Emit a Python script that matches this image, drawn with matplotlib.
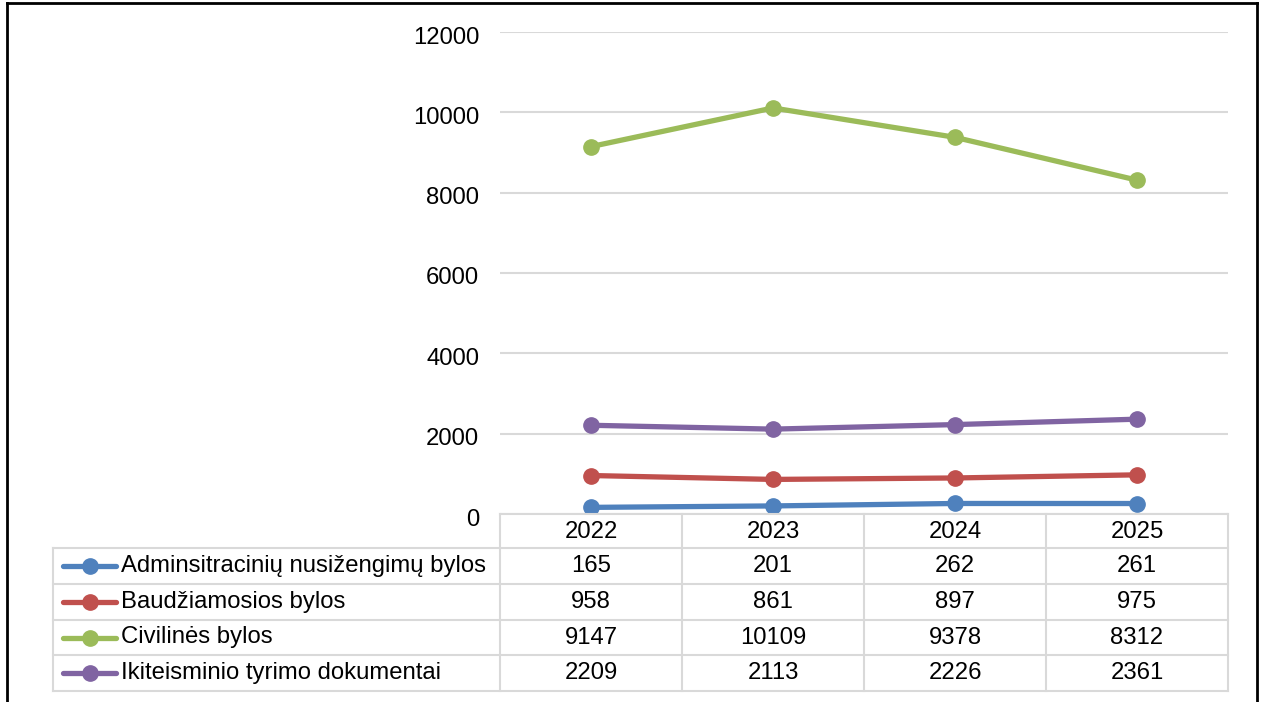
import matplotlib.pyplot as plt
from matplotlib.lines import Line2D
from matplotlib.transforms import ScaledTranslation
import numpy as np

plt.rcParams['font.family'] = ['Liberation Sans', 'DejaVu Sans']

years = ['2022', '2023', '2024', '2025']
series_names = ['Adminsitracinių nusižengimų bylos',
                'Baudžiamosios bylos',
                'Civilinės bylos',
                'Ikiteisminio tyrimo dokumentai']
admin = [165, 201, 262, 261]
baudz = [958, 861, 897, 975]
civil = [9147, 10109, 9378, 8312]
ikiteis = [2209, 2113, 2226, 2361]
colors = ['#4F81BD', '#C0504D', '#9BBB59', '#8064A2']

W, H = 1261, 702
fig = plt.figure(figsize=(W / 100, H / 100), dpi=100)
FS = 17.2


def fx(px):
    return px / W


def fy(py):
    return 1 - py / H


# plot area in pixels
left, right, top, bottom = 500, 1228, 32, 514
ax = fig.add_axes([fx(left), fy(bottom), fx(right - left), (bottom - top) / H])
ax.set_xlim(-0.5, len(years) - 0.5)
ax.set_ylim(0, 12000)
ax.set_yticks(np.arange(0, 12001, 2000))
ax.yaxis.grid(True, color='#D9D9D9', lw=1.5)
ax.set_axisbelow(True)
for s in ax.spines.values():
    s.set_visible(False)
ax.tick_params(axis='y', length=0, labelsize=FS, pad=15)
ax.set_xticks([])
# labels sit a little below their gridlines in the original
shift = ScaledTranslation(0, -3 / 100, fig.dpi_scale_trans)
for lab in ax.get_yticklabels():
    lab.set_transform(lab.get_transform() + shift)

x = np.arange(len(years))
all_series = [admin, baudz, civil, ikiteis]
for vals, c in zip(all_series, colors):
    ax.plot(x, vals, color=c, lw=3.8, marker='o', ms=11, solid_capstyle='round')

# data table below the plot
grid_c = '#D9D9D9'
row_edges = [514, 548, 584, 620, 655, 691]
tab_left = 53
fig.add_artist(Line2D([fx(left), fx(right)], [fy(row_edges[0])] * 2,
                      color=grid_c, lw=1.5))
for ry in row_edges[1:]:
    fig.add_artist(Line2D([fx(tab_left), fx(right)], [fy(ry)] * 2,
                          color=grid_c, lw=1.5))
fig.add_artist(Line2D([fx(tab_left)] * 2, [fy(row_edges[1]), fy(row_edges[-1])],
                      color=grid_c, lw=1.5))
col_w = (right - left) / len(years)
for i in range(len(years) + 1):
    cx = left + i * col_w
    fig.add_artist(Line2D([fx(cx)] * 2, [fy(row_edges[0]), fy(row_edges[-1])],
                          color=grid_c, lw=1.5))

for i, yr in enumerate(years):
    cx = left + (i + 0.5) * col_w
    fig.text(fx(cx), fy((row_edges[0] + row_edges[1]) / 2 + 1), yr,
             ha='center', va='center', fontsize=FS)

for r, (name, vals, c) in enumerate(zip(series_names, all_series, colors)):
    cy = fy((row_edges[r + 1] + row_edges[r + 2]) / 2)
    fig.add_artist(Line2D([fx(63), fx(116)], [cy, cy], color=c, lw=3.8,
                          solid_capstyle='round'))
    fig.add_artist(Line2D([fx(89.5)], [cy], color=c, marker='o', ms=11))
    fig.text(fx(121), cy, name, ha='left', va='center', fontsize=FS)
    for i, v in enumerate(vals):
        cx = left + (i + 0.5) * col_w
        fig.text(fx(cx), cy, str(v), ha='center', va='center', fontsize=FS)

# outer frame (chart is cropped at the bottom)
frame = dict(color='black', lw=2)
fig.add_artist(Line2D([fx(7), fx(7)], [fy(3), 0], **frame))
fig.add_artist(Line2D([fx(7), fx(1257)], [fy(3), fy(3)], **frame))
fig.add_artist(Line2D([fx(1257), fx(1257)], [fy(3), 0], **frame))

fig.savefig('out.png', dpi=100)
